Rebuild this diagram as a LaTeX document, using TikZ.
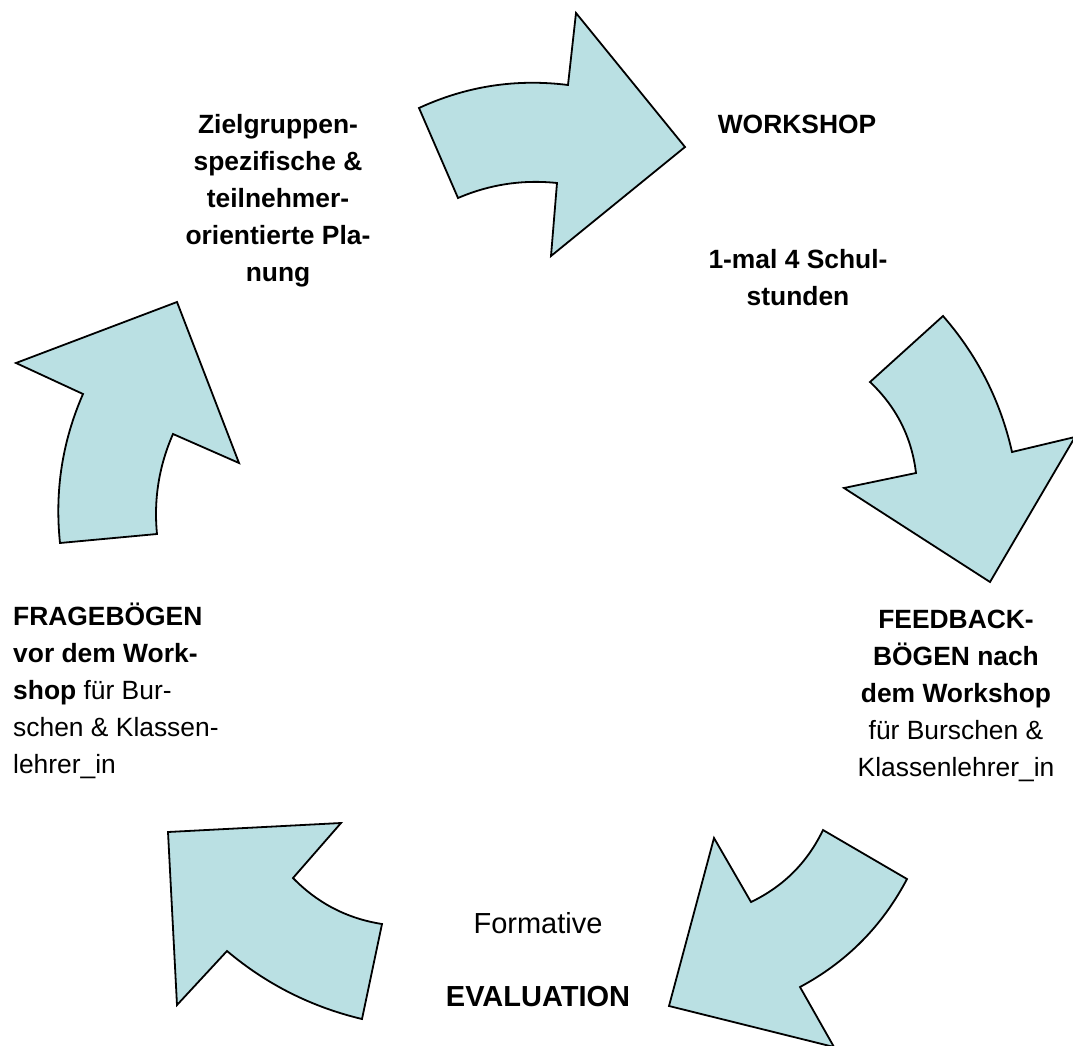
\documentclass[tikz,border=0pt]{standalone}
\usepackage{fontspec}
\setmainfont{Liberation Sans}
\usepackage{tikz}
\usetikzlibrary{positioning}
\definecolor{pfeilblau}{RGB}{186,224,227}
\tikzstyle{pfeil} = [draw=black, line width=1.8pt, fill=pfeilblau, line join=miter]
\tikzstyle{txt} = [font=\fontsize{26.4}{37}\selectfont, inner sep=0pt, align=center]
\tikzstyle{txtgross} = [font=\fontsize{29}{37}\selectfont, inner sep=0pt, align=center]

\begin{document}
\begin{tikzpicture}[x=1pt,y=-1pt]
            \useasboundingbox (0,0) rectangle (1073,1046);

            % Pfeile im Kreis
            \draw[pfeil] (419,108) .. controls (466.5,86.1) and (516.1,78.5) .. (568,85) -- (576,13) -- (685,147) -- (551,256) -- (557,183) .. controls (522.7,179.4) and (489.7,184.4) .. (458,198) -- cycle;
            \draw[pfeil] (943,316) -- (870,382) .. controls (896.3,406.8) and (911.7,437.2) .. (916,473) -- (844,488) -- (990,582) -- (1075,437) -- (1012,452) .. controls (1000.5,400.9) and (977.5,355.5) .. cycle;
            \draw[pfeil] (823,830) -- (907,879) .. controls (882.3,926) and (846.7,962) .. (800,987) -- (834,1047) -- (669,1006) -- (714,838) -- (751,902) .. controls (783.4,886.5) and (807.4,862.5) .. cycle;
            \draw[pfeil] (341,823) -- (293,878) .. controls (317.6,903.2) and (347.2,918.6) .. (382,924) -- (362,1019) .. controls (311.6,1007) and (266.6,984.4) .. (227,951) -- (177,1005) -- (168,832) -- cycle;
            \draw[pfeil] (177,302) -- (16,363) -- (83,394) .. controls (62.2,441.6) and (54.6,491.2) .. (60,543) -- (157,534) .. controls (153.6,499.3) and (159,465.9) .. (173,434) -- (239,463) -- cycle;

            % Texte
            \node[txt,anchor=north] (Plan) at (278,114) {\bfseries Zielgruppen-\\\bfseries spezifische \&\\\bfseries teilnehmer-\\\bfseries orientierte Pla-\\\bfseries nung};
            \node[txt,anchor=base] (Workshop) at (797,133) {\bfseries WORKSHOP};
            \node[txt,anchor=north] (Dauer) at (798,249) {\bfseries 1-mal 4 Schul-\\\bfseries stunden};
            \node[txt,anchor=north] (Feedback) at (956,610) {\bfseries FEEDBACK-\\\bfseries BÖGEN nach\\\bfseries dem Workshop\\für Burschen \&\\Klassenlehrer\_in};
            \node[txt,align=left,anchor=north west] (Frageboegen) at (13,603) {\bfseries FRAGEBÖGEN\\\bfseries vor dem Work-\\\textbf{shop} für Bur-\\schen \& Klassen-\\lehrer\_in};
            \node[txtgross,anchor=base] (Formative) at (538,933) {Formative};
            \node[txtgross] (Evaluation) [below of=Formative, node distance=74pt] {\bfseries EVALUATION};
        \end{tikzpicture}
\end{document}
